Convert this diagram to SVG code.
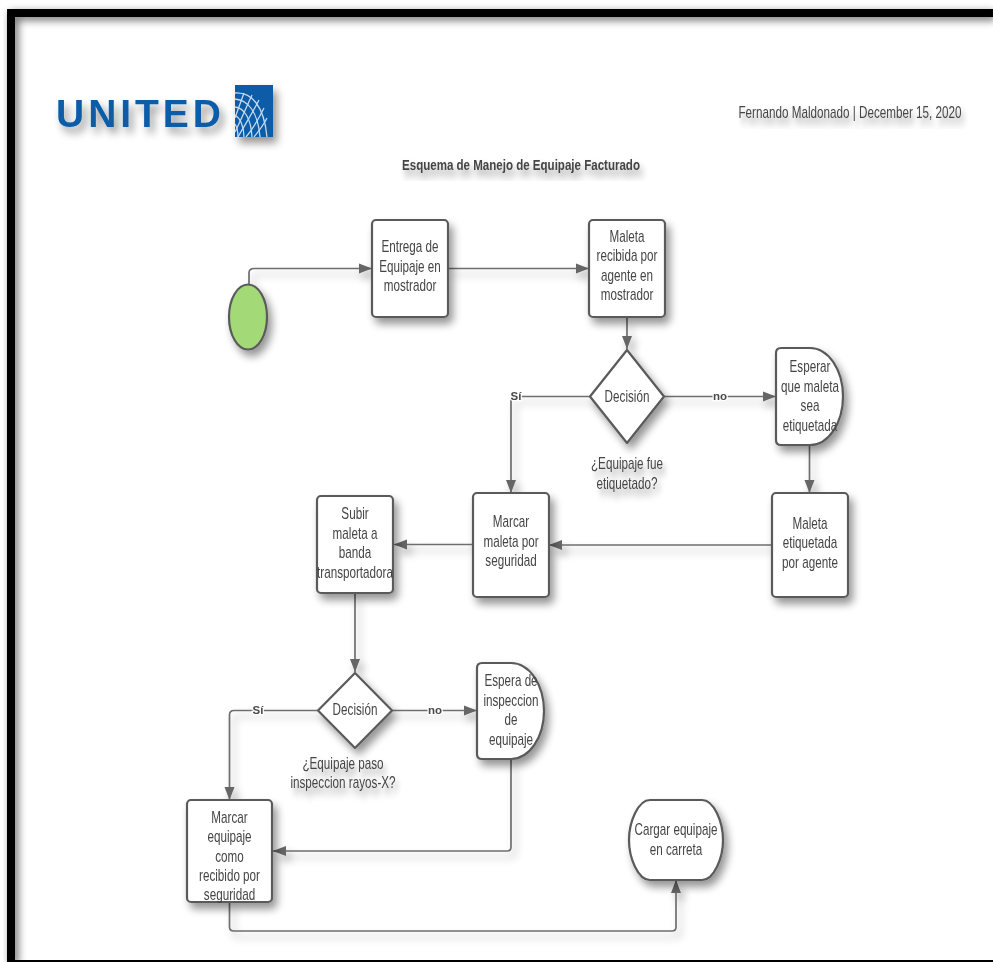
<svg xmlns="http://www.w3.org/2000/svg" width="993" height="962" viewBox="0 0 993 962">
<style>
text{font-family:"Liberation Sans",Arial,sans-serif;fill:#454545;font-size:16px;text-anchor:middle}
.b{fill:#fff;stroke:#5a5a5a;stroke-width:2.200;stroke-linejoin:round}
.c{fill:none;stroke:#6e6e6e;stroke-width:1.700;marker-end:url(#a)}
.l{font-size:11.500px;font-weight:700;paint-order:stroke;stroke:#fff;stroke-width:2.500px;fill:#4a4a4a}
.s{filter:url(#s)}
.g{fill:none;stroke:#c6d9ec;stroke-width:1.300}
</style>
<defs>
<filter id="s" x="-30%" y="-30%" width="170%" height="170%">
<feGaussianBlur in="SourceGraphic" stdDeviation="0.55" result="o"/>
<feGaussianBlur in="SourceAlpha" stdDeviation="4"/>
<feOffset dx="4" dy="6"/>
<feComponentTransfer><feFuncA type="linear" slope="0.42"/></feComponentTransfer>
<feMerge><feMergeNode/><feMergeNode in="o"/></feMerge>
</filter>
<filter id="w" filterUnits="userSpaceOnUse" x="0" y="0" width="993" height="962">
<feGaussianBlur in="SourceGraphic" stdDeviation="0.55" result="o"/>
<feGaussianBlur in="SourceAlpha" stdDeviation="4"/>
<feOffset dx="4" dy="6"/>
<feComponentTransfer><feFuncA type="linear" slope="0.35"/></feComponentTransfer>
<feMerge><feMergeNode/><feMergeNode in="o"/></feMerge>
</filter>
<filter id="f" filterUnits="userSpaceOnUse" x="0" y="0" width="993" height="962">
<feGaussianBlur in="SourceAlpha" stdDeviation="4.500"/>
<feOffset dx="3" dy="3"/>
<feComponentTransfer><feFuncA type="linear" slope="0.6"/></feComponentTransfer>
<feMerge><feMergeNode/><feMergeNode in="SourceGraphic"/></feMerge>
</filter>
<filter id="t" filterUnits="userSpaceOnUse" x="0" y="0" width="993" height="962">
<feGaussianBlur in="SourceGraphic" stdDeviation="0.5"/>
</filter>
<marker id="a" markerUnits="userSpaceOnUse" markerWidth="14" markerHeight="12" refX="13" refY="6" orient="auto">
<path d="M0 1L13 6L0 11Z" fill="#666"/>
</marker>
<clipPath id="gc"><rect x="235" y="85" width="38" height="52"/></clipPath>
</defs>
<rect width="993" height="962" fill="#fff"/>
<g id="frame">
<path d="M7 962V9H993V17H15V962Z" fill="#000" filter="url(#f)"/>
<rect x="15" y="960" width="978" height="2" fill="#000"/>
</g>
<g id="logo">
<text class="s" x="56" y="127" textLength="165" lengthAdjust="spacing" style="font-size:39px;font-weight:700;fill:#0a5ca8;text-anchor:start">UNITED</text>
<g class="s">
<rect x="235" y="85" width="38" height="52" fill="#0a5ca8"/>
<g clip-path="url(#gc)">
<path class="g" d="M235 93C252 92 264 106 267 137M235 99C248 100 258 112 260 137M235 107C244 108 251 118 252 137M235 115C240 118 244 126 244 137M235 124C237 127 238 131 238 137"/>
<path class="g" d="M244 93C240 104 237 112 235 118M252 95C246 108 240 122 235 132M259 100C252 114 244 126 238 137M264 108C258 120 252 130 246 137M267 118C263 126 258 132 254 137"/>
</g>
</g>
</g>
<text class="s" id="author" transform="translate(850 118) scale(.73 1)">Fernando Maldonado | December 15, 2020</text>
<text class="s" id="title" transform="translate(521 170) scale(.77 1)" style="font-weight:700;font-size:15px">Esquema de Manejo de Equipaje Facturado</text>
<g id="connectors">
<g filter="url(#w)">
<path class="c" d="M249 285V273Q249 268.500 254 268.500H372"/>
<path class="c" d="M448 268.500H589"/>
<path class="c" d="M627 317V349"/>
<path class="c" d="M590 396.500H515Q511 396.500 511 400.500V493"/>
<path class="c" d="M664 396.500H776"/>
<path class="c" d="M809.500 445V493"/>
<path class="c" d="M772 545H549"/>
<path class="c" d="M473 544.500H394"/>
<path class="c" d="M355 593V672"/>
<path class="c" d="M318 710.500H234Q229.500 710.500 229.500 715V800"/>
<path class="c" d="M392 710.500H477"/>
<path class="c" d="M511 759V847Q511 851 507 851H273"/>
<path class="c" d="M229.500 902V927Q229.500 931 234 931H672Q676 931 676 927V880"/>
</g>
<g filter="url(#t)">
<text class="l" x="516" y="400">Sí</text>
<text class="l" x="720" y="400">no</text>
<text class="l" x="258" y="714">Sí</text>
<text class="l" x="435" y="714">no</text>
</g>
</g>
<g id="start" class="s"><ellipse class="b" cx="248" cy="317" rx="19" ry="32.500" style="fill:#a3d977"/></g>
<g id="entrega" class="s"><rect class="b" x="372" y="220" width="76" height="97" rx="4"/>
<text transform="translate(410 0) scale(.73 1)"><tspan x="0" y="252">Entrega de</tspan><tspan x="0" y="272">Equipaje en</tspan><tspan x="0" y="291">mostrador</tspan></text></g>
<g id="recibida" class="s"><rect class="b" x="589" y="220" width="76" height="97" rx="4"/>
<text transform="translate(627 0) scale(.73 1)"><tspan x="0" y="242">Maleta</tspan><tspan x="0" y="261">recibida por</tspan><tspan x="0" y="281">agente en</tspan><tspan x="0" y="300">mostrador</tspan></text></g>
<g id="decision1" class="s"><path class="b" d="M627 350L664 396.500L627 443L590 396.500Z"/>
<text transform="translate(627 402) scale(.73 1)">Decisión</text></g>
<text id="q1" class="s" transform="translate(627 0) scale(.73 1)"><tspan x="0" y="469">¿Equipaje fue</tspan><tspan x="0" y="489">etiquetado?</tspan></text>
<g id="esperar" class="s"><path class="b" d="M781 348H810A33 48.500 0 0 1 810 445H781Q776 445 776 440V353Q776 348 781 348Z"/>
<text transform="translate(810 0) scale(.73 1)"><tspan x="0" y="372">Esperar</tspan><tspan x="0" y="392">que maleta</tspan><tspan x="0" y="411">sea</tspan><tspan x="0" y="431">etiquetada</tspan></text></g>
<g id="etiquetada" class="s"><rect class="b" x="772" y="493" width="76" height="104" rx="4"/>
<text transform="translate(810 0) scale(.73 1)"><tspan x="0" y="529">Maleta</tspan><tspan x="0" y="548">etiquetada</tspan><tspan x="0" y="568">por agente</tspan></text></g>
<g id="marcar" class="s"><rect class="b" x="473" y="493" width="76" height="104" rx="4"/>
<text transform="translate(511 0) scale(.73 1)"><tspan x="0" y="527">Marcar</tspan><tspan x="0" y="547">maleta por</tspan><tspan x="0" y="566">seguridad</tspan></text></g>
<g id="subir" class="s"><rect class="b" x="317" y="496" width="76" height="97" rx="4"/>
<text transform="translate(355 0) scale(.73 1)"><tspan x="0" y="519">Subir</tspan><tspan x="0" y="539">maleta a</tspan><tspan x="0" y="558">banda</tspan><tspan x="0" y="578">transportadora</tspan></text></g>
<g id="decision2" class="s"><path class="b" d="M355 673L392 710.500L355 748L318 710.500Z"/>
<text transform="translate(355 715) scale(.73 1)">Decisión</text></g>
<text id="q2" class="s" transform="translate(343 0) scale(.73 1)"><tspan x="0" y="769">¿Equipaje paso</tspan><tspan x="0" y="788">inspeccion rayos-X?</tspan></text>
<g id="espera" class="s"><path class="b" d="M482 663H511A33 48 0 0 1 511 759H482Q477 759 477 754V668Q477 663 482 663Z"/>
<text transform="translate(511 0) scale(.73 1)"><tspan x="0" y="686">Espera de</tspan><tspan x="0" y="706">inspeccion</tspan><tspan x="0" y="725">de</tspan><tspan x="0" y="745">equipaje</tspan></text></g>
<g id="recibido" class="s"><rect class="b" x="187" y="800" width="85" height="102" rx="4"/>
<text transform="translate(229.500 0) scale(.73 1)"><tspan x="0" y="823">Marcar</tspan><tspan x="0" y="842">equipaje</tspan><tspan x="0" y="862">como</tspan><tspan x="0" y="881">recibido por</tspan><tspan x="0" y="900">seguridad</tspan></text></g>
<g id="cargar" class="s"><path class="b" d="M650 800H702C714 800 723 822 723 840C723 858 714 880 702 880H650C638 880 629 858 629 840C629 822 638 800 650 800Z"/>
<text transform="translate(676 0) scale(.73 1)"><tspan x="0" y="835">Cargar equipaje</tspan><tspan x="0" y="855">en carreta</tspan></text></g>
</svg>
